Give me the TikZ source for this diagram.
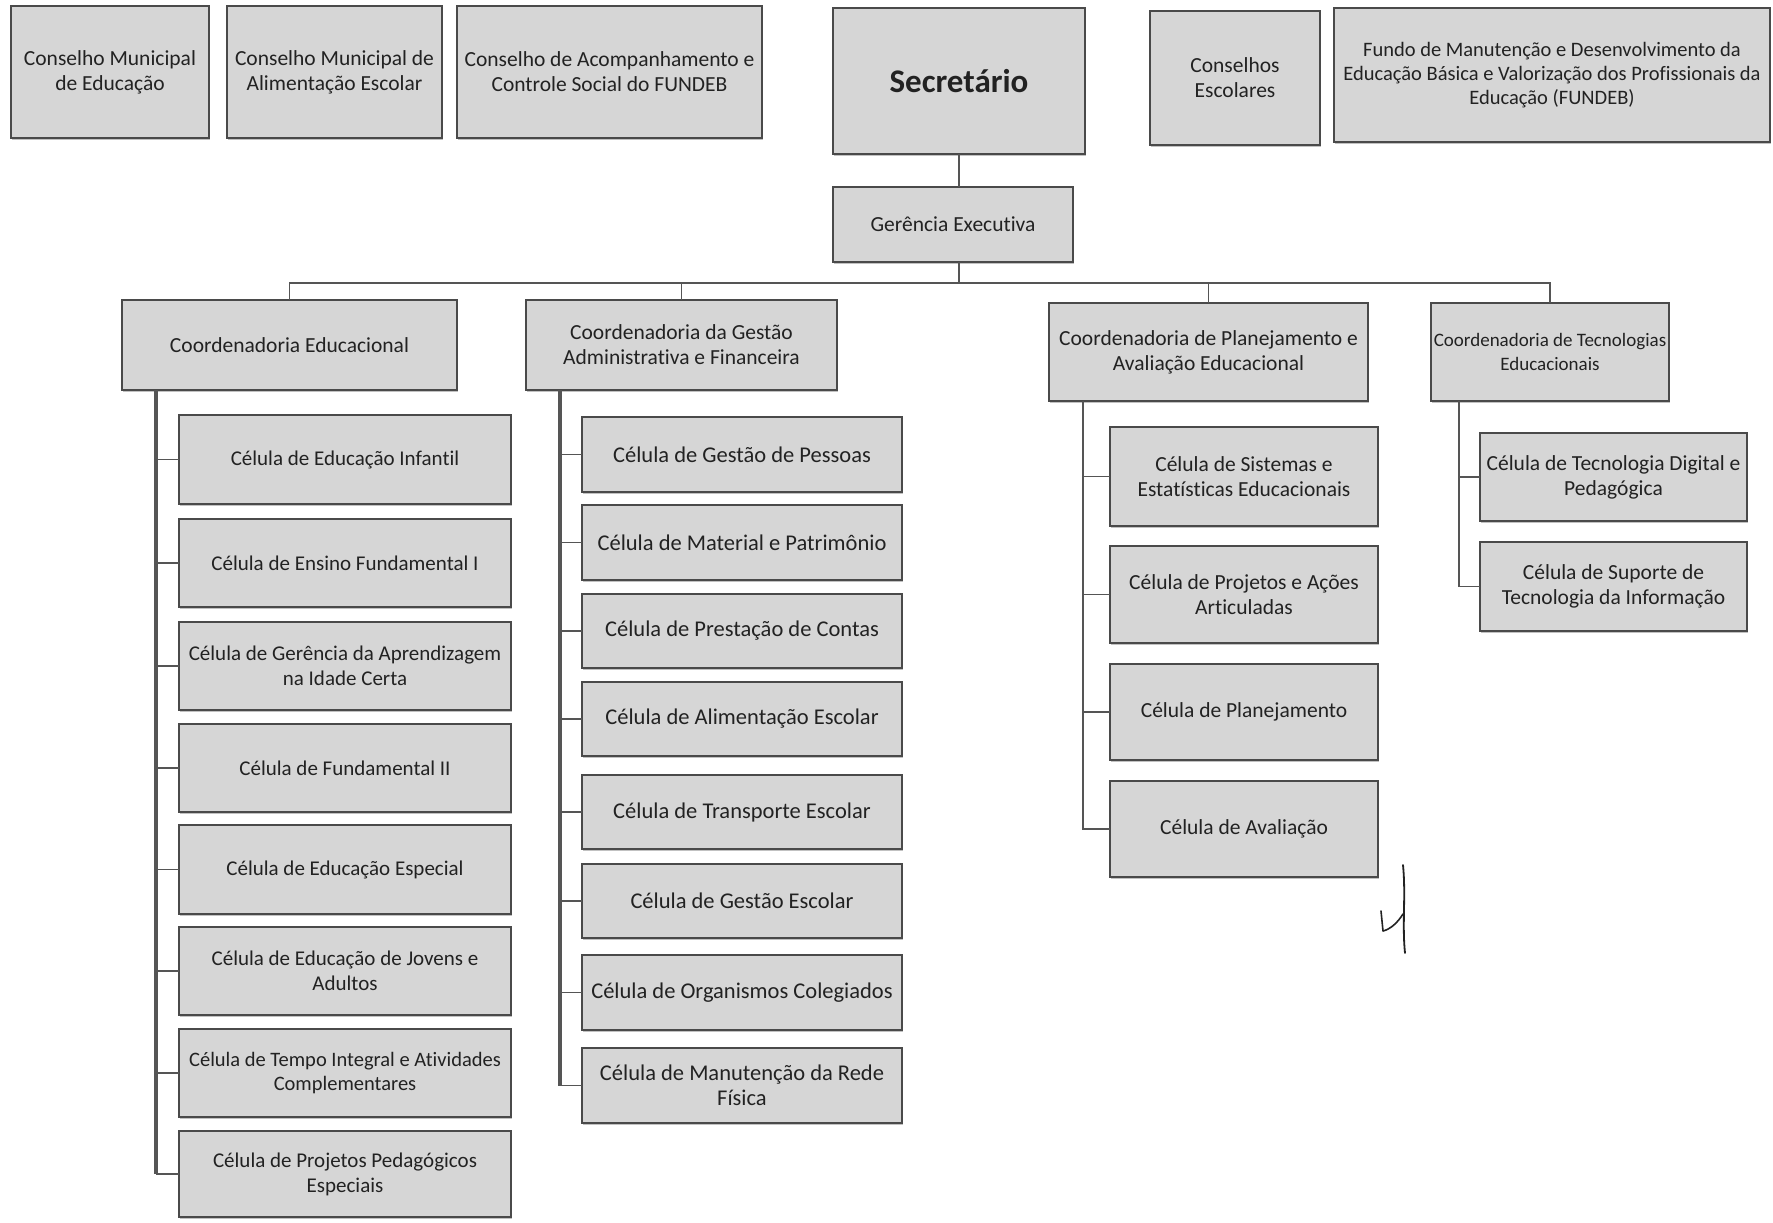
\documentclass[tikz,border=0pt]{standalone}
\usepackage{fontspec}
\setmainfont[Ligatures={NoCommon}]{Carlito}
\usetikzlibrary{shadows}

\definecolor{boxfill}{HTML}{D6D6D6}
\definecolor{boxline}{HTML}{4A4A4A}
\definecolor{wire}{HTML}{555555}
\definecolor{ink}{HTML}{222222}

% a box given by its two corners (x1,y1) (x2,y2) in pixel units
\newcommand{\orgbox}[7][]{%
  \node[box,#1,minimum width={(#5-#3)*1pt},minimum height={(#6-#4)*1pt}]
    (#2) at ({(#3+#5)/2},{(#4+#6)/2}) {#7};}

\tikzset{
  box/.style={draw=boxline, line width=1.3pt, fill=boxfill, text=ink,
    align=center, inner sep=0pt, outer sep=0pt, font=\fontsize{21.5}{25}\selectfont,
    drop shadow={shadow xshift=1.2pt, shadow yshift=-2.4pt, fill=black!40, opacity=0.6}},
  cell/.style={font=\fontsize{21}{25}\selectfont},
  widecell/.style={font=\fontsize{22.5}{25}\selectfont},
  tightbox/.style={font=\fontsize{20.5}{24}\selectfont},
  narrowbox/.style={font=\fontsize{19}{24}\selectfont},
  wireline/.style={draw=wire, line width=1.4pt},
  spine/.style={draw=wire, line width=3.6pt},
}

\begin{document}
\begin{tikzpicture}[x=1pt, y=-1pt]
\useasboundingbox (0,0) rectangle (1773,1223);
\fill[white] (0,0) rectangle (1773,1223);

% --- councils and head office ---
\orgbox{cme}{11}{6}{209}{138}{Conselho Municipal\\de Educação}
\orgbox{cmae}{227}{6}{442}{138}{Conselho Municipal de\\Alimentação Escolar}
\orgbox{cacs}{457}{6}{762}{138}{Conselho de Acompanhamento e\\Controle Social do FUNDEB}
\orgbox[font=\bfseries\fontsize{33}{38}\selectfont]{sec}{833}{8}{1085}{154}{Secretário}
\orgbox{cesc}{1150}{11}{1320}{145}{Conselhos\\Escolares}
\orgbox[tightbox]{fundo}{1334}{8}{1770}{142}{Fundo de Manutenção e Desenvolvimento da\\Educação Básica e Valorização dos Profissionais da\\Educação (FUNDEB)}

\orgbox{ge}{833}{187}{1073}{262}{Gerência Executiva}

% --- coordinations ---
\orgbox{ce}{122}{300}{457}{390}{Coordenadoria Educacional}
\orgbox{cg}{526}{300}{837}{390}{Coordenadoria da Gestão\\Administrativa e Financeira}
\orgbox{cp}{1049}{303}{1368}{401}{Coordenadoria de Planejamento e\\Avaliação Educacional}
\orgbox[narrowbox]{ct}{1431}{303}{1669}{401}{Coordenadoria de Tecnologias\\Educacionais}

% --- cells of Coordenadoria Educacional ---
\orgbox[cell]{ce1}{179}{415}{511}{504}{Célula de Educação Infantil}
\orgbox[cell]{ce2}{179}{519}{511}{607}{Célula de Ensino Fundamental I}
\orgbox[cell]{ce3}{179}{622}{511}{710}{Célula de Gerência da Aprendizagem\\na Idade Certa}
\orgbox[cell]{ce4}{179}{724}{511}{812}{Célula de Fundamental II}
\orgbox[cell]{ce5}{179}{825}{511}{914}{Célula de Educação Especial}
\orgbox[cell]{ce6}{179}{927}{511}{1015}{Célula de Educação de Jovens e\\Adultos}
\orgbox[tightbox]{ce7}{179}{1029}{511}{1117}{Célula de Tempo Integral e Atividades\\Complementares}
\orgbox[cell]{ce8}{179}{1131}{511}{1217}{Célula de Projetos Pedagógicos\\Especiais}

% --- cells of Coordenadoria da Gestão ---
\orgbox[widecell]{cg1}{582}{417}{902}{492}{Célula de Gestão de Pessoas}
\orgbox[widecell]{cg2}{582}{505}{902}{580}{Célula de Material e Patrimônio}
\orgbox[widecell]{cg3}{582}{594}{902}{668}{Célula de Prestação de Contas}
\orgbox[widecell]{cg4}{582}{682}{902}{756}{Célula de Alimentação Escolar}
\orgbox[widecell]{cg5}{582}{775}{902}{849}{Célula de Transporte Escolar}
\orgbox[widecell]{cg6}{582}{864}{902}{938}{Célula de Gestão Escolar}
\orgbox[widecell]{cg7}{582}{955}{902}{1030}{Célula de Organismos Colegiados}
\orgbox[widecell]{cg8}{582}{1048}{902}{1123}{Célula de Manutenção da Rede\\Física}

% --- cells of Coordenadoria de Planejamento ---
\orgbox{cp1}{1110}{427}{1378}{526}{Célula de Sistemas e\\Estatísticas Educacionais}
\orgbox{cp2}{1110}{546}{1378}{643}{Célula de Projetos e Ações\\Articuladas}
\orgbox{cp3}{1110}{664}{1378}{760}{Célula de Planejamento}
\orgbox{cp4}{1110}{781}{1378}{877}{Célula de Avaliação}

% --- cells of Coordenadoria de Tecnologias ---
\orgbox{ct1}{1480}{433}{1747}{521}{Célula de Tecnologia Digital e\\Pedagógica}
\orgbox{ct2}{1480}{542}{1747}{631}{Célula de Suporte de\\Tecnologia da Informação}

% --- connectors ---
\coordinate (busY) at (0,283);
\draw[wireline] (sec.south) -- (sec.south |- ge.north);
\draw[wireline] (sec.south |- ge.south) -- (sec.south |- busY);
\draw[wireline] (ce.north) -- (ce.north |- busY) -- (ct.north |- busY) -- (ct.north);
\draw[wireline] (cg.north) -- (cg.north |- busY);
\draw[wireline] (cp.north) -- (cp.north |- busY);

% Coordenadoria Educacional: heavy spine, thin branches
\coordinate (ceX) at (156,0);
\draw[spine] (ceX |- ce.south) -- (ceX |- ce8.west);
\foreach \c in {ce1,ce2,ce3,ce4,ce5,ce6,ce7,ce8}
  \draw[wireline] (ceX |- \c.west) -- (\c.west);

% Coordenadoria da Gestão: heavy spine, thin branches
\coordinate (cgX) at (560,0);
\draw[spine] (cgX |- cg.south) -- (cgX |- cg8.west);
\foreach \c in {cg1,cg2,cg3,cg4,cg5,cg6,cg7,cg8}
  \draw[wireline] (cgX |- \c.west) -- (\c.west);

\coordinate (cpX) at (1083,0);
\foreach \c in {cp1,cp2,cp3,cp4}
  \draw[wireline] (cpX |- cp.south) |- (\c.west);

\coordinate (ctX) at (1459,0);
\foreach \c in {ct1,ct2}
  \draw[wireline] (ctX |- ct.south) |- (\c.west);

% --- handwritten initial ---
\draw[ink, line width=1.8pt, line cap=round]
  (1403,865) .. controls (1406,895) and (1402,925) .. (1405,953);
\draw[ink, line width=1.6pt, line cap=round, line join=round]
  (1381,911) -- (1383,931) .. controls (1391,929) and (1398,922) .. (1403,914);
\end{tikzpicture}
\end{document}
